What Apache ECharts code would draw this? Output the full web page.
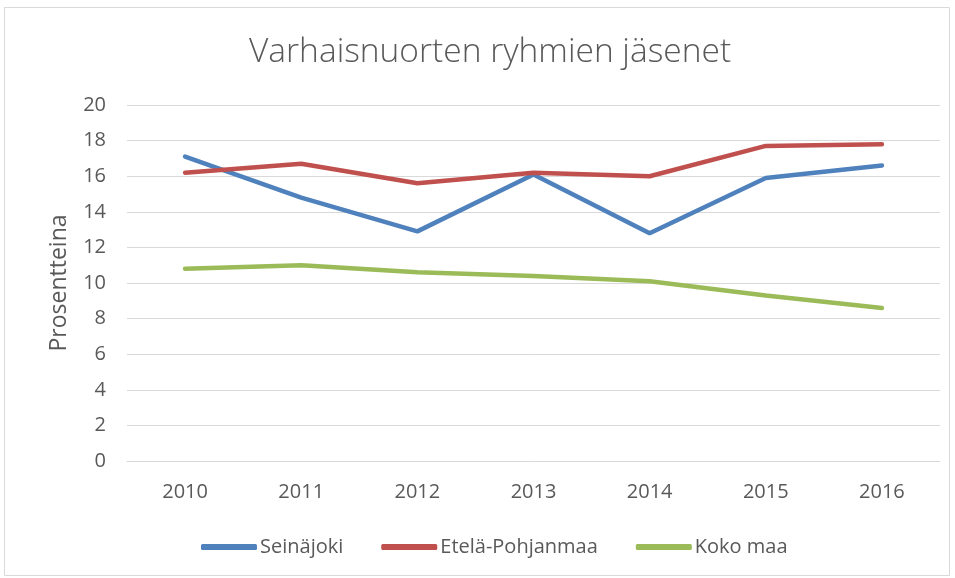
<!DOCTYPE html>
<html>
<head>
<meta charset="utf-8">
<script src="https://cdn.jsdelivr.net/npm/echarts@6/dist/echarts.min.js"></script>
<style>
  html, body { margin: 0; padding: 0; background: #fff; }
  #chart { width: 955px; height: 578px; }
</style>
</head>
<body>
<div id="chart"></div>
<script>
// vuodet ja sarjat
var years = ['2010', '2011', '2012', '2013', '2014', '2015', '2016'];
var seinajoki = [17.1, 14.8, 12.9, 16.1, 12.8, 15.9, 16.6];
var etelaPohjanmaa = [16.2, 16.7, 15.6, 16.2, 16.0, 17.7, 17.8];
var kokoMaa = [10.8, 11.0, 10.6, 10.4, 10.1, 9.3, 8.6];

var chart = echarts.init(document.getElementById('chart'));
var fontName = '"Open Sans", "Liberation Sans", sans-serif';

var option = {
    animation: false,
    graphic: [{
        type: 'rect',
        shape: { x: 4.5, y: 7.5, width: 945, height: 568 },
        style: { fill: 'none', stroke: '#d9d9d9', lineWidth: 1 },
        silent: true
    }],
    title: {
        text: 'Varhaisnuorten ryhmien jäsenet',
        left: 244,
        top: 30,
        textStyle: {
            fontFamily: fontName,
            fontSize: 33.5,
            fontWeight: 300,
            color: '#595959'
        }
    },
    legend: {
        bottom: 16,
        left: 196,
        itemWidth: 56,
        itemHeight: 6,
        itemGap: 38,
        icon: 'roundRect',
        textStyle: { fontFamily: fontName, fontSize: 20, color: '#595959', padding: [0, 0, 0, -2] },
        data: ['Seinäjoki', 'Etelä-Pohjanmaa', 'Koko maa']
    },
    grid: {
        left: 127,
        right: 15,
        top: 105,
        bottom: 117
    },
    xAxis: {
        type: 'category',
        data: years,
        boundaryGap: true,
        axisLine: { lineStyle: { color: '#d9d9d9', width: 1 } },
        axisTick: { show: false },
        axisLabel: { fontFamily: fontName, fontSize: 20, color: '#595959', margin: 21 }
    },
    yAxis: {
        type: 'value',
        min: 0,
        max: 20,
        interval: 2,
        name: 'Prosentteina',
        nameLocation: 'middle',
        nameGap: 56,
        nameTextStyle: { fontFamily: fontName, fontSize: 23, color: '#595959' },
        axisLine: { show: false },
        axisTick: { show: false },
        axisLabel: { fontFamily: fontName, fontSize: 20, color: '#595959', margin: 21 },
        splitLine: { lineStyle: { color: '#d9d9d9', width: 1 } }
    },
    series: [
        {
            name: 'Seinäjoki',
            type: 'line',
            data: seinajoki,
            symbol: 'none',
            itemStyle: { color: '#4f81bd' },
            lineStyle: { width: 4.5, color: '#4f81bd', cap: 'round' }
        },
        {
            name: 'Etelä-Pohjanmaa',
            type: 'line',
            data: etelaPohjanmaa,
            symbol: 'none',
            itemStyle: { color: '#c0504d' },
            lineStyle: { width: 4.5, color: '#c0504d', cap: 'round' }
        },
        {
            name: 'Koko maa',
            type: 'line',
            data: kokoMaa,
            symbol: 'none',
            itemStyle: { color: '#9bbb59' },
            lineStyle: { width: 4.5, color: '#9bbb59', cap: 'round' }
        }
    ]
};

chart.setOption(option);
</script>
</body>
</html>
